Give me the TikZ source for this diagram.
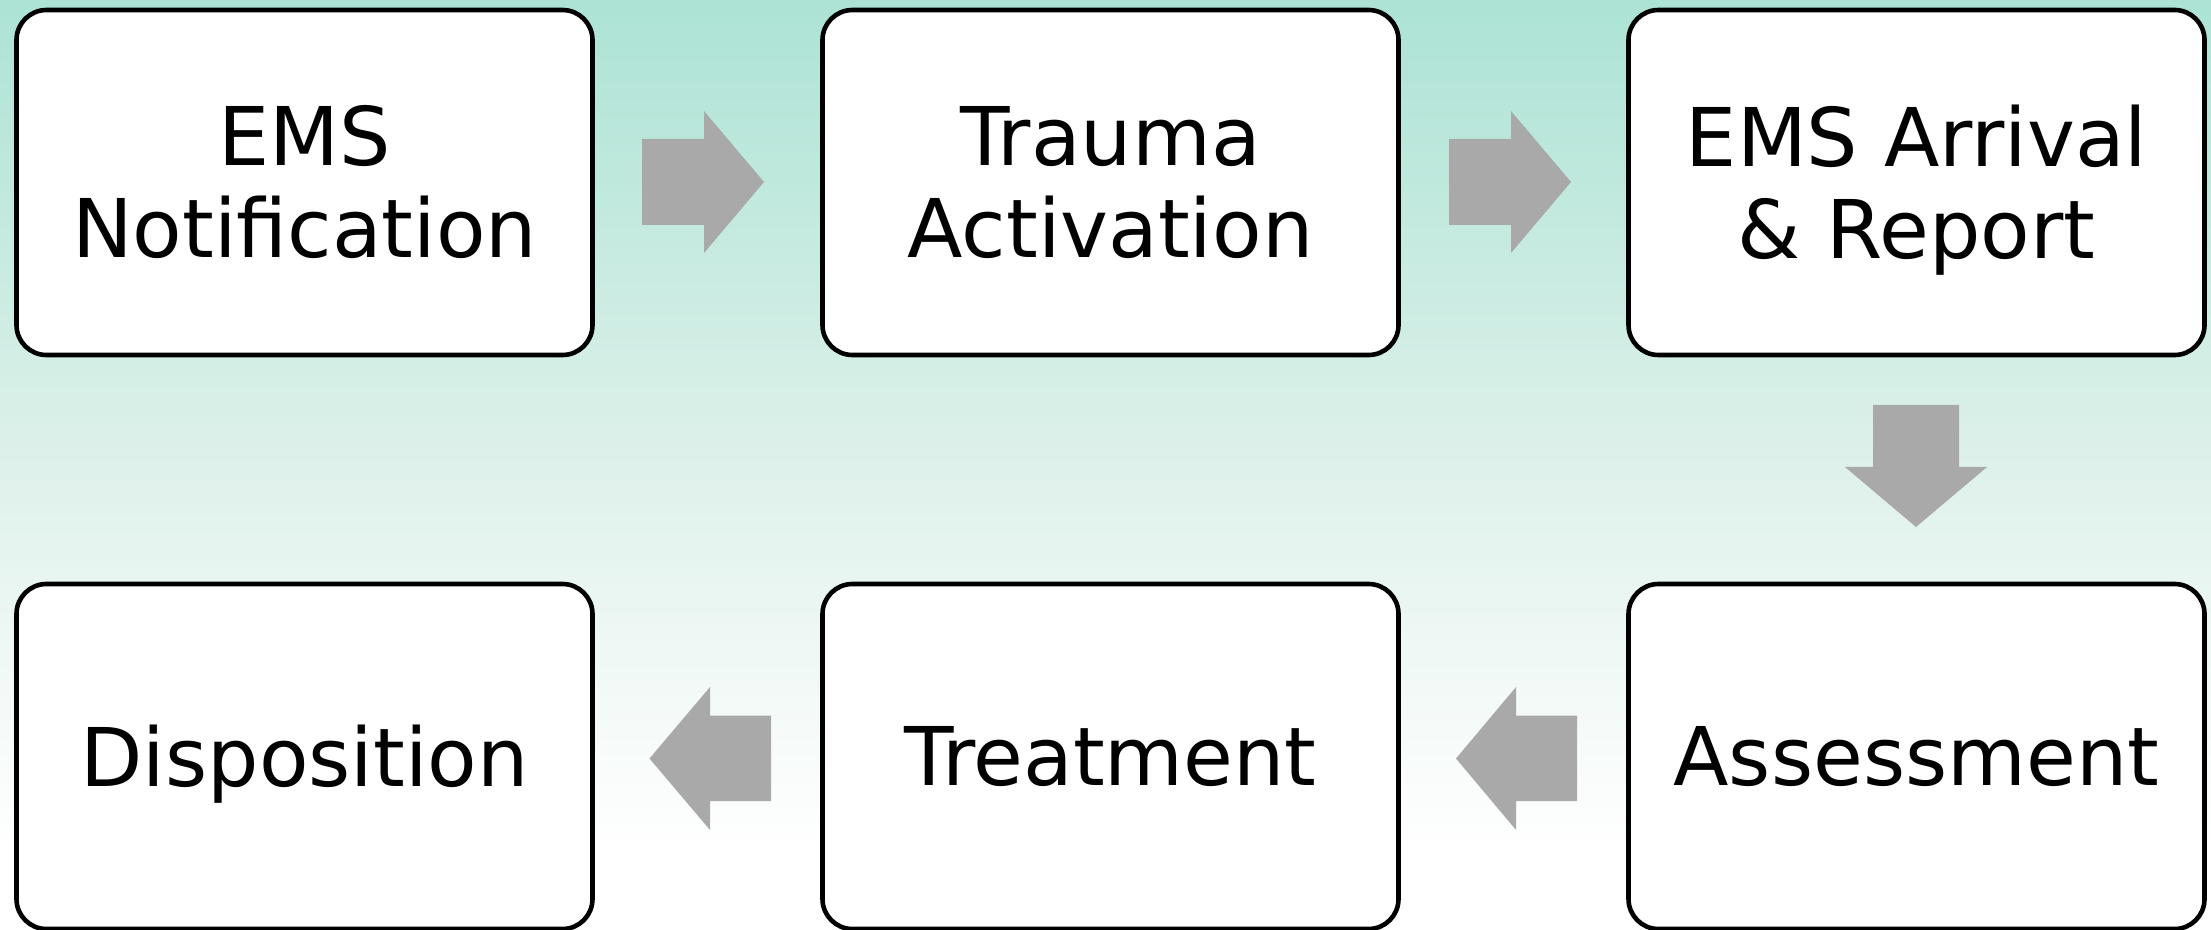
\documentclass[tikz,border=0pt]{standalone}
\usepackage{fontspec}
\setmainfont{DejaVu Sans}
\definecolor{minttop}{RGB}{172,227,213}
\definecolor{mintmid}{RGB}{222,241,234}
\definecolor{mintlow}{RGB}{244,250,248}
\definecolor{arrowgray}{RGB}{169,169,169}
\pgfdeclareverticalshading{bgshade}{100bp}{color(0bp)=(white); color(25bp)=(white); color(29bp)=(white); color(37bp)=(mintlow); color(50bp)=(mintmid); color(75bp)=(minttop); color(100bp)=(minttop)}
\tikzset{
  stepbox/.style={draw=black, line width=2.3pt, fill=white, rounded corners=15pt,
    minimum width=288pt, minimum height=172.5pt, inner sep=0pt, align=center,
    font=\fontsize{40.5pt}{46pt}\selectfont},
  blockarrow/.style={fill=arrowgray, draw=none}
}
\begin{document}
\begin{tikzpicture}[x=0.5pt, y=-0.5pt]
\useasboundingbox (0,0) rectangle (2211,930);
\shade[shading=bgshade] (0,0) rectangle (2211,930);
% boxes
\node[stepbox] (n1) at (304.5,182.5) {EMS\\Notification};
\node[stepbox] (n2) at (1110.5,182.5) {Trauma\\Activation};
\node[stepbox] (n3) at (1916.5,182.5) {EMS Arrival\\\& Re\smash{p}ort};
\node[stepbox] (n4) at (1916.5,756.5) {Assessment};
\node[stepbox] (n5) at (1110.5,756.5) {Treatment};
\node[stepbox] (n6) at (304.5,756.5) {Dis\smash{p}osition};
% arrows
\fill[blockarrow] (642,139) -- (704,139) -- (704,111) -- (764,182) -- (704,253) -- (704,225) -- (642,225) -- cycle;
\fill[blockarrow] (1449,139) -- (1511,139) -- (1511,111) -- (1571,182) -- (1511,253) -- (1511,225) -- (1449,225) -- cycle;
\fill[blockarrow] (1873,405) -- (1959,405) -- (1959,467) -- (1987,467) -- (1916,527) -- (1845,467) -- (1873,467) -- cycle;
\fill[blockarrow] (1577,715.5) -- (1516,715.5) -- (1516,687) -- (1456,758.5) -- (1516,830) -- (1516,801) -- (1577,801) -- cycle;
\fill[blockarrow] (771,715.5) -- (710,715.5) -- (710,687) -- (649.5,758.5) -- (710,830) -- (710,801) -- (771,801) -- cycle;
\end{tikzpicture}
\end{document}
